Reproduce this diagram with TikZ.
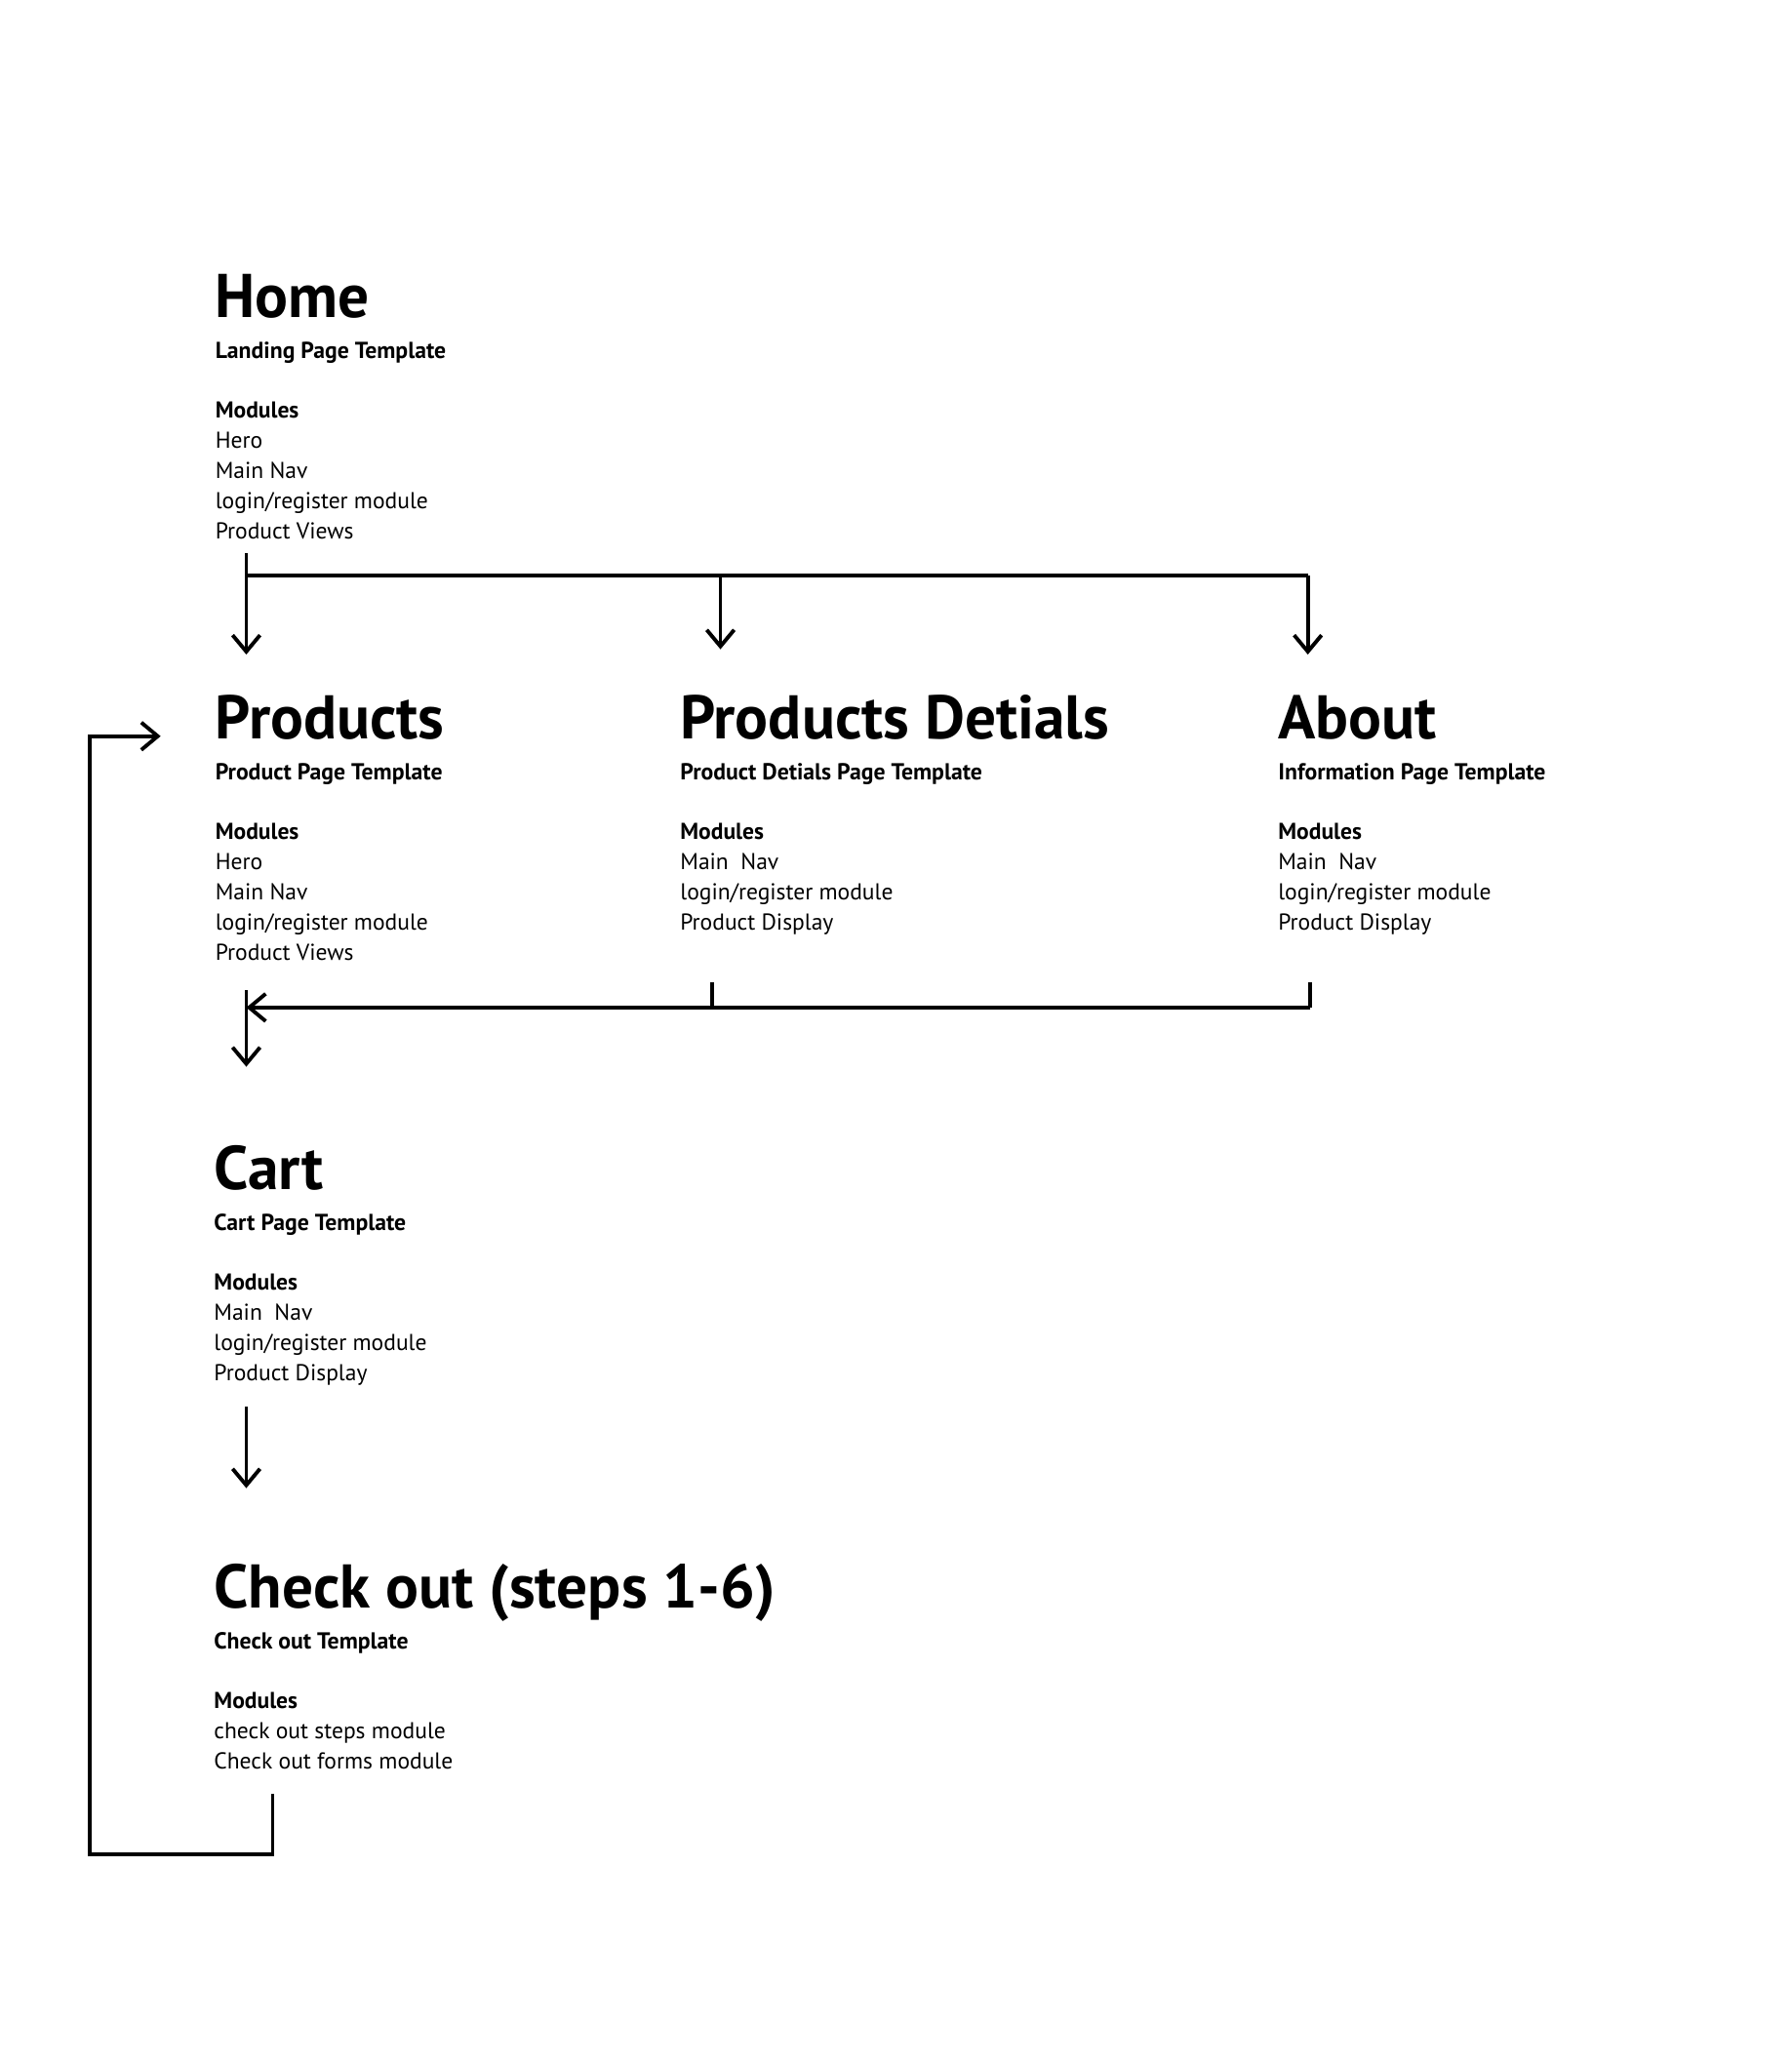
\documentclass[tikz,border=0pt]{standalone}
\usepackage{fontspec}
\setmainfont{PT Sans}
\usetikzlibrary{arrows.meta, positioning, calc}

\begin{document}
\begin{tikzpicture}[
  x=0.0135cm, y=-0.0135cm,
  every node/.style={inner sep=0pt, anchor=base west},
  pagetitle/.style={font=\fontsize{18}{21}\selectfont\bfseries},
  template/.style={font=\fontsize{6.75}{8}\selectfont\bfseries},
  modlist/.style={font=\fontsize{6.7}{8.83}\selectfont, align=left,
                  anchor=north west, execute at begin node={\rule{0pt}{7pt}}},
  bus/.style={line width=1.1pt},
  arrow/.style={-{Straight Barb[length=4.8pt, width=8pt]}, line width=1.1pt}
]
\useasboundingbox (0,0) rectangle (1360,1568);

% Home
\node[pagetitle] (home) at (163,241) {Home};
\node[template] (hometpl) at ($(home.base west)+(0,31)$) {Landing Page Template};
\node[modlist] (homemods) at ($(home.base west)+(0,63.8)$)
  {\textbf{Modules}\\Hero\\Main Nav\\login/register module\\Product Views};

% Second row
\node[pagetitle] (products) at (163,561) {Products};
\node[template] (productstpl) at ($(products.base west)+(0,31)$) {Product Page Template};
\node[modlist] (productsmods) at ($(products.base west)+(0,63.8)$)
  {\textbf{Modules}\\Hero\\Main Nav\\login/register module\\Product Views};

\node[pagetitle] (details) at (516,561) {Products Detials};
\node[template] (detailstpl) at ($(details.base west)+(0,31)$) {Product Detials Page Template};
\node[modlist] (detailsmods) at ($(details.base west)+(0,63.8)$)
  {\textbf{Modules}\\Main~~Nav\\login/register module\\Product Display};

\node[pagetitle] (about) at (970,561) {About};
\node[template] (abouttpl) at ($(about.base west)+(0,31)$) {Information Page Template};
\node[modlist] (aboutmods) at ($(about.base west)+(0,63.8)$)
  {\textbf{Modules}\\Main~~Nav\\login/register module\\Product Display};

% Cart
\node[pagetitle] (cart) at (162,903) {Cart};
\node[template] (carttpl) at ($(cart.base west)+(0,31)$) {Cart Page Template};
\node[modlist] (cartmods) at ($(cart.base west)+(0,63.8)$)
  {\textbf{Modules}\\Main~~Nav\\login/register module\\Product Display};

% Check out
\node[pagetitle] (checkout) at (162,1221) {Check out (steps 1-6)};
\node[template] (checkouttpl) at ($(checkout.base west)+(0,31)$) {Check out Template};
\node[modlist] (checkoutmods) at ($(checkout.base west)+(0,63.8)$)
  {\textbf{Modules}\\check out steps module\\Check out forms module};

% Connector points
\coordinate (hstart)  at (187,420);
\coordinate (hjoin)   at (187,437);
\coordinate (hmid)    at (547,437);
\coordinate (hright)  at (993,437);
\coordinate (pin)     at (187,497);
\coordinate (din)     at (547,493);
\coordinate (ain)     at (993,497);

\coordinate (dout)    at (541,746);
\coordinate (aout)    at (995,746);
\coordinate (djoin)   at (541,765);
\coordinate (ajoin)   at (995,765);
\coordinate (cjoin)   at (187,765);
\coordinate (ctop)    at (187,752);
\coordinate (cin)     at (187,810);

\coordinate (cout)    at (187,1068);
\coordinate (kin)     at (187,1130);

\coordinate (kout)    at (207,1362);
\coordinate (loopr)   at (207,1408);
\coordinate (loopl)   at (68,1408);
\coordinate (loopt)   at (68,559);
\coordinate (loopin)  at (122,559);

% Arrows
\draw[bus] (hstart) -- (hjoin) -- (hright);
\draw[arrow] (hjoin) -- (pin);
\draw[arrow] (hmid) -- (din);
\draw[arrow] (hright) -- (ain);

\draw[bus] (dout) -- (djoin);
\draw[bus] (aout) -- (ajoin);
\draw[arrow] (ajoin) -- (cjoin);
\draw[arrow] (ctop) -- (cin);

\draw[arrow] (cout) -- (kin);

\draw[arrow] (kout) -- (loopr) -- (loopl) -- (loopt) -- (loopin);

\end{tikzpicture}
\end{document}
